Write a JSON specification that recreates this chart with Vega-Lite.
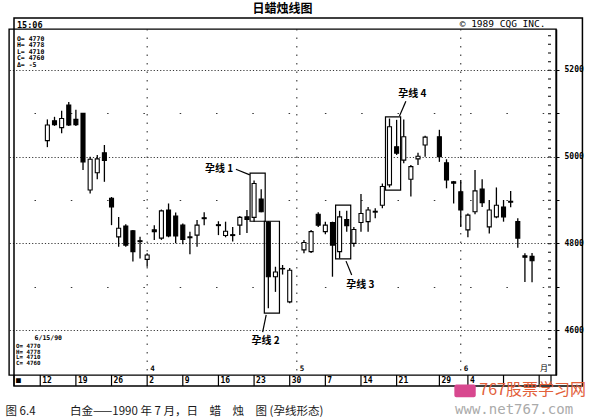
{
  "$schema": "https://vega.github.io/schema/vega-lite/v6.json",
  "width": 547,
  "height": 346,
  "autosize": {"type": "none"},
  "padding": {"left": 9, "top": 29, "right": 44, "bottom": 42},
  "background": "white",
  "title": {"text": "日蜡烛线图", "frame": "group", "anchor": "middle", "font": "Noto Sans CJK SC", "fontSize": 12, "fontWeight": "bold", "color": "black", "offset": 1},
  "config": {"view": {"stroke": "black", "strokeWidth": 1.4}, "font": "DejaVu Sans Mono", "axis": {"labelOverlap": false}},
  "datasets": {
    "candles": [
      {"slot": 0, "o": 5037, "h": 5086, "l": 5022, "c": 5073},
      {"slot": 1, "o": 5083, "h": 5092, "l": 5071, "c": 5074},
      {"slot": 2, "o": 5067, "h": 5106, "l": 5054, "c": 5088},
      {"slot": 3, "o": 5119, "h": 5126, "l": 5071, "c": 5073},
      {"slot": 4, "o": 5086, "h": 5108, "l": 5071, "c": 5074},
      {"slot": 5, "o": 5100, "h": 5101, "l": 4969, "c": 4988},
      {"slot": 6, "o": 4923, "h": 5000, "l": 4915, "c": 4994},
      {"slot": 7, "o": 4963, "h": 5004, "l": 4948, "c": 4995},
      {"slot": 8, "o": 5009, "h": 5027, "l": 4942, "c": 4991},
      {"slot": 9, "o": 4904, "h": 4907, "l": 4842, "c": 4884},
      {"slot": 10, "o": 4815, "h": 4861, "l": 4792, "c": 4835},
      {"slot": 11, "o": 4840, "h": 4844, "l": 4792, "c": 4796},
      {"slot": 12, "o": 4829, "h": 4831, "l": 4758, "c": 4781},
      {"slot": 13, "o": 4806, "h": 4815, "l": 4765, "c": 4804},
      {"slot": 14, "o": 4763, "h": 4777, "l": 4746, "c": 4773},
      {"slot": 15, "o": 4831, "h": 4842, "l": 4808, "c": 4827},
      {"slot": 16, "o": 4812, "h": 4878, "l": 4808, "c": 4875},
      {"slot": 17, "o": 4877, "h": 4892, "l": 4814, "c": 4817},
      {"slot": 18, "o": 4863, "h": 4871, "l": 4800, "c": 4817},
      {"slot": 19, "o": 4842, "h": 4846, "l": 4798, "c": 4809},
      {"slot": 20, "o": 4815, "h": 4827, "l": 4775, "c": 4813},
      {"slot": 21, "o": 4819, "h": 4854, "l": 4792, "c": 4842},
      {"slot": 22, "o": 4859, "h": 4872, "l": 4842, "c": 4857},
      {"slot": 24, "o": 4843, "h": 4851, "l": 4819, "c": 4841},
      {"slot": 25, "o": 4818, "h": 4850, "l": 4814, "c": 4828},
      {"slot": 26, "o": 4820, "h": 4838, "l": 4804, "c": 4818},
      {"slot": 27, "o": 4842, "h": 4863, "l": 4819, "c": 4860},
      {"slot": 28, "o": 4861, "h": 4877, "l": 4824, "c": 4855},
      {"slot": 29, "o": 4860, "h": 4945, "l": 4850, "c": 4938},
      {"slot": 30, "o": 4902, "h": 4925, "l": 4872, "c": 4873},
      {"slot": 31, "o": 4849, "h": 4851, "l": 4650, "c": 4723},
      {"slot": 32, "o": 4723, "h": 4746, "l": 4688, "c": 4734},
      {"slot": 33, "o": 4742, "h": 4750, "l": 4728, "c": 4741},
      {"slot": 34, "o": 4665, "h": 4743, "l": 4662, "c": 4738},
      {"slot": 36, "o": 4785, "h": 4808, "l": 4777, "c": 4802},
      {"slot": 37, "o": 4781, "h": 4831, "l": 4778, "c": 4827},
      {"slot": 38, "o": 4867, "h": 4872, "l": 4838, "c": 4842},
      {"slot": 39, "o": 4827, "h": 4850, "l": 4821, "c": 4842},
      {"slot": 40, "o": 4848, "h": 4850, "l": 4723, "c": 4796},
      {"slot": 41, "o": 4781, "h": 4875, "l": 4765, "c": 4861},
      {"slot": 42, "o": 4855, "h": 4875, "l": 4827, "c": 4841},
      {"slot": 43, "o": 4800, "h": 4838, "l": 4792, "c": 4832},
      {"slot": 44, "o": 4848, "h": 4914, "l": 4827, "c": 4869},
      {"slot": 45, "o": 4850, "h": 4884, "l": 4827, "c": 4877},
      {"slot": 46, "o": 4872, "h": 4881, "l": 4858, "c": 4874},
      {"slot": 47, "o": 4888, "h": 4938, "l": 4881, "c": 4931},
      {"slot": 48, "o": 4935, "h": 5088, "l": 4929, "c": 5069},
      {"slot": 49, "o": 5023, "h": 5085, "l": 5004, "c": 5008},
      {"slot": 50, "o": 4992, "h": 5086, "l": 4985, "c": 5046},
      {"slot": 51, "o": 4948, "h": 4981, "l": 4908, "c": 4977},
      {"slot": 52, "o": 4995, "h": 5009, "l": 4981, "c": 5001},
      {"slot": 53, "o": 5027, "h": 5048, "l": 5000, "c": 5045},
      {"slot": 55, "o": 5046, "h": 5062, "l": 4988, "c": 5000},
      {"slot": 56, "o": 4986, "h": 4994, "l": 4927, "c": 4946},
      {"slot": 57, "o": 4942, "h": 4944, "l": 4892, "c": 4939},
      {"slot": 58, "o": 4919, "h": 4946, "l": 4838, "c": 4877},
      {"slot": 59, "o": 4831, "h": 4869, "l": 4814, "c": 4865},
      {"slot": 60, "o": 4873, "h": 4969, "l": 4867, "c": 4921},
      {"slot": 61, "o": 4925, "h": 4948, "l": 4884, "c": 4894},
      {"slot": 62, "o": 4838, "h": 4900, "l": 4823, "c": 4877},
      {"slot": 63, "o": 4861, "h": 4929, "l": 4858, "c": 4888},
      {"slot": 64, "o": 4884, "h": 4900, "l": 4850, "c": 4861},
      {"slot": 65, "o": 4897, "h": 4921, "l": 4883, "c": 4895},
      {"slot": 66, "o": 4850, "h": 4858, "l": 4790, "c": 4812},
      {"slot": 67, "o": 4771, "h": 4777, "l": 4711, "c": 4768},
      {"slot": 68, "o": 4770, "h": 4778, "l": 4710, "c": 4760}
    ],
    "harami": [
      {"from": 29, "to": 30, "hi": 4962, "lo": 4851},
      {"from": 31, "to": 32, "hi": 4851, "lo": 4639},
      {"from": 41, "to": 42, "hi": 4888, "lo": 4764},
      {"from": 48, "to": 49, "hi": 5092, "lo": 4923}
    ],
    "notes": [
      {"label": "孕线 1", "slot": 24.1, "price": 4971, "s1": 26.45, "p1": 4971, "s2": 28.4, "p2": 4958},
      {"label": "孕线 2", "slot": 30.6, "price": 4575, "s1": 30.2, "p1": 4595, "s2": 30.7, "p2": 4635},
      {"label": "孕线 3", "slot": 43.9, "price": 4704, "s1": 42.7, "p1": 4727, "s2": 41.9, "p2": 4759},
      {"label": "孕线 4", "slot": 51.2, "price": 5145, "s1": 50.3, "p1": 5128, "s2": 49.4, "p2": 5094}
    ],
    "months": [
      {"slot": 14, "month": "4"},
      {"slot": 35, "month": "5"},
      {"slot": 58, "month": "6"}
    ],
    "weeks": [
      {"slot": -4.683, "week": "■"},
      {"slot": -1, "week": "12"},
      {"slot": 4, "week": "19"},
      {"slot": 9, "week": "26"},
      {"slot": 14, "week": "2"},
      {"slot": 19, "week": "9"},
      {"slot": 24, "week": "16"},
      {"slot": 29, "week": "23"},
      {"slot": 34, "week": "30"},
      {"slot": 39, "week": "7"},
      {"slot": 44, "week": "14"},
      {"slot": 49, "week": "21"},
      {"slot": 55, "week": "29"},
      {"slot": 59, "week": "4"},
      {"slot": 64, "week": ""},
      {"slot": 69, "week": ""},
      {"slot": 70.66, "week": ""}
    ]
  },
  "layer": [
    {
      "data": {"name": "months"},
      "mark": {"type": "rule", "color": "#222", "strokeWidth": 1, "strokeDash": [1.5, 7]},
      "encoding": {
        "x": {"field": "slot", "type": "quantitative", "scale": {"domain": [-4.683, 70.66], "nice": false, "zero": false}}
      }
    },
    {
      "data": {"name": "candles"},
      "mark": {"type": "rule", "color": "black", "strokeWidth": 1.3},
      "encoding": {
        "x": {
          "field": "slot", "type": "quantitative",
          "scale": {"domain": [-4.683, 70.66], "nice": false, "zero": false},
          "axis": {
            "orient": "bottom", "labels": false, "ticks": false, "domain": false, "grid": false,
            "title": "图 6.4　　　白金——1990 年 7 月，日　蜡　烛　图 (孕线形态)",
            "titleAnchor": "start", "titleAlign": "left", "titleX": -4, "titleY": 39, "titleBaseline": "alphabetic",
            "titleFont": "Noto Sans CJK SC", "titleFontSize": 11.5, "titleFontWeight": "normal", "titleColor": "#1a1a1a"
          }
        },
        "y": {
          "field": "l", "type": "quantitative",
          "scale": {"domain": [4496.2, 5294.6], "nice": false, "zero": false},
          "axis": {
            "orient": "right",
            "values": [4600, 4700, 4800, 4900, 5000, 5100, 5200],
            "format": "d",
            "labelExpr": "indexof([4600, 4800, 5000, 5200], datum.value) >= 0 ? datum.label : ''",
            "domain": true, "domainColor": "black", "domainWidth": 1.5,
            "tickSize": 3, "tickColor": "black", "tickWidth": 1,
            "grid": true, "gridColor": "#222", "gridWidth": 1, "gridOpacity": 0.9,
            "gridDash": {"condition": {"test": "indexof([4600, 4800, 5000, 5200], datum.value) >= 0", "value": [1.2, 2]}, "value": [1.5, 34.8]},
            "gridDashOffset": 24,
            "labelFont": "DejaVu Sans Mono", "labelFontSize": 8, "labelFontWeight": "bold", "labelColor": "black", "labelPadding": 5,
            "labelFlush": false, "labelOverlap": false, "labelBound": false,
            "title": null
          }
        },
        "y2": {"field": "h"}
      }
    },
    {
      "data": {"values": [{}]},
      "mark": {"type": "rule", "color": "black", "strokeWidth": 3, "strokeDash": [1, 7.667], "xOffset": -1.5},
      "encoding": {
        "x": {"datum": 70.66, "type": "quantitative", "scale": {"domain": [-4.683, 70.66], "nice": false, "zero": false}},
        "y": {"datum": 5280.3, "type": "quantitative", "scale": {"domain": [4496.2, 5294.6], "nice": false, "zero": false}},
        "y2": {"datum": 4500}
      }
    },
    {
      "data": {"name": "candles"},
      "mark": {"type": "bar", "width": 4, "stroke": "black", "strokeWidth": 1.1},
      "encoding": {
        "x": {"field": "slot", "type": "quantitative", "scale": {"domain": [-4.683, 70.66], "nice": false, "zero": false}},
        "y": {"field": "o", "type": "quantitative", "scale": {"domain": [4496.2, 5294.6], "nice": false, "zero": false}},
        "y2": {"field": "c"},
        "fill": {"condition": {"test": "datum.c > datum.o", "value": "white"}, "value": "black"}
      }
    },
    {
      "data": {"name": "weeks"},
      "mark": {"type": "rule", "color": "black", "strokeWidth": 1.2},
      "encoding": {
        "x": {"field": "slot", "type": "quantitative", "scale": {"domain": [-4.683, 70.66], "nice": false, "zero": false}},
        "y": {"datum": 4496.2, "type": "quantitative", "scale": {"domain": [4496.2, 5294.6], "nice": false, "zero": false}},
        "y2": {"datum": 4470.8}
      }
    },
    {
      "data": {"name": "weeks"},
      "mark": {"type": "text", "font": "DejaVu Sans Mono", "fontSize": 8, "fontWeight": "bold", "color": "black", "align": "left", "baseline": "middle", "dx": 2},
      "encoding": {
        "x": {"field": "slot", "type": "quantitative", "scale": {"domain": [-4.683, 70.66], "nice": false, "zero": false}},
        "y": {"datum": 4483.5, "type": "quantitative", "scale": {"domain": [4496.2, 5294.6], "nice": false, "zero": false}},
        "text": {"field": "week"}
      }
    },
    {
      "data": {"name": "harami"},
      "mark": {"type": "rect", "fill": "transparent", "stroke": "black", "strokeWidth": 1.2, "xOffset": -4, "x2Offset": 4},
      "encoding": {
        "x": {"field": "from", "type": "quantitative", "scale": {"domain": [-4.683, 70.66], "nice": false, "zero": false}},
        "x2": {"field": "to"},
        "y": {"field": "hi", "type": "quantitative", "scale": {"domain": [4496.2, 5294.6], "nice": false, "zero": false}},
        "y2": {"field": "lo"}
      }
    },
    {
      "data": {"name": "notes"},
      "mark": {"type": "rule", "color": "black", "strokeWidth": 1.2},
      "encoding": {
        "x": {"field": "s1", "type": "quantitative", "scale": {"domain": [-4.683, 70.66], "nice": false, "zero": false}},
        "x2": {"field": "s2"},
        "y": {"field": "p1", "type": "quantitative", "scale": {"domain": [4496.2, 5294.6], "nice": false, "zero": false}},
        "y2": {"field": "p2"}
      }
    },
    {
      "data": {"name": "notes"},
      "mark": {"type": "text", "font": "Noto Sans CJK SC", "fontSize": 10, "fontWeight": "bold", "color": "black", "baseline": "middle"},
      "encoding": {
        "x": {"field": "slot", "type": "quantitative", "scale": {"domain": [-4.683, 70.66], "nice": false, "zero": false}},
        "y": {"field": "price", "type": "quantitative", "scale": {"domain": [4496.2, 5294.6], "nice": false, "zero": false}},
        "text": {"field": "label"}
      }
    },
    {
      "data": {"name": "months"},
      "mark": {"type": "text", "font": "DejaVu Sans Mono", "fontSize": 7.5, "fontWeight": "bold", "color": "black", "align": "left", "baseline": "alphabetic", "dx": 3},
      "encoding": {
        "x": {"field": "slot", "type": "quantitative", "scale": {"domain": [-4.683, 70.66], "nice": false, "zero": false}},
        "y": {"datum": 4506.5, "type": "quantitative", "scale": {"domain": [4496.2, 5294.6], "nice": false, "zero": false}},
        "text": {"field": "month"}
      }
    },
    {
      "data": {"values": [{}]},
      "mark": {"type": "text", "font": "Noto Sans CJK SC", "fontSize": 8, "color": "black", "align": "left", "baseline": "alphabetic", "text": "月"},
      "encoding": {
        "x": {"datum": 69.1, "type": "quantitative", "scale": {"domain": [-4.683, 70.66], "nice": false, "zero": false}},
        "y": {"datum": 4506.5, "type": "quantitative", "scale": {"domain": [4496.2, 5294.6], "nice": false, "zero": false}}
      }
    },
    {
      "data": {"values": [{}]},
      "mark": {"type": "text", "font": "DejaVu Sans Mono", "fontSize": 8.5, "fontWeight": "bold", "color": "black", "align": "left", "baseline": "alphabetic", "text": "15:06"},
      "encoding": {
        "x": {"datum": -4.27, "type": "quantitative", "scale": {"domain": [-4.683, 70.66], "nice": false, "zero": false}},
        "y": {"datum": 5298, "type": "quantitative", "scale": {"domain": [4496.2, 5294.6], "nice": false, "zero": false}}
      }
    },
    {
      "data": {"values": [{}]},
      "mark": {"type": "text", "font": "DejaVu Sans Mono", "fontSize": 9.5, "color": "black", "align": "left", "baseline": "alphabetic", "text": "© 1989 CQG INC."},
      "encoding": {
        "x": {"datum": 57.85, "type": "quantitative", "scale": {"domain": [-4.683, 70.66], "nice": false, "zero": false}},
        "y": {"datum": 5299, "type": "quantitative", "scale": {"domain": [4496.2, 5294.6], "nice": false, "zero": false}}
      }
    },
    {
      "data": {"values": [{}]},
      "mark": {"type": "text", "font": "DejaVu Sans Mono", "fontSize": 6.5, "fontWeight": "bold", "color": "black", "align": "left", "baseline": "alphabetic", "lineHeight": 6.5, "text": ["O= 4770", "H= 4778", "L= 4710", "C= 4760", "Δ=   -5"]},
      "encoding": {
        "x": {"datum": -4.27, "type": "quantitative", "scale": {"domain": [-4.683, 70.66], "nice": false, "zero": false}},
        "y": {"datum": 5268, "type": "quantitative", "scale": {"domain": [4496.2, 5294.6], "nice": false, "zero": false}}
      }
    },
    {
      "data": {"values": [{}]},
      "mark": {"type": "text", "font": "DejaVu Sans Mono", "fontSize": 6.5, "fontWeight": "bold", "color": "black", "align": "left", "baseline": "alphabetic", "text": "6/15/90"},
      "encoding": {
        "x": {"datum": -1.79, "type": "quantitative", "scale": {"domain": [-4.683, 70.66], "nice": false, "zero": false}},
        "y": {"datum": 4578, "type": "quantitative", "scale": {"domain": [4496.2, 5294.6], "nice": false, "zero": false}}
      }
    },
    {
      "data": {"values": [{}]},
      "mark": {"type": "text", "font": "DejaVu Sans Mono", "fontSize": 5.8, "fontWeight": "bold", "color": "black", "align": "left", "baseline": "alphabetic", "lineHeight": 5.6, "text": ["O= 4770", "H= 4778", "L= 4710", "C= 4760"]},
      "encoding": {
        "x": {"datum": -4.4, "type": "quantitative", "scale": {"domain": [-4.683, 70.66], "nice": false, "zero": false}},
        "y": {"datum": 4558, "type": "quantitative", "scale": {"domain": [4496.2, 5294.6], "nice": false, "zero": false}}
      }
    },
    {
      "data": {"values": [{}]},
      "mark": {"type": "rect", "fill": "transparent", "stroke": "black", "strokeWidth": 1.5},
      "encoding": {
        "x": {"datum": -4.683, "type": "quantitative", "scale": {"domain": [-4.683, 70.66], "nice": false, "zero": false}},
        "x2": {"datum": 75.07},
        "y": {"datum": 5320, "type": "quantitative", "scale": {"domain": [4496.2, 5294.6], "nice": false, "zero": false}},
        "y2": {"datum": 4470.8}
      }
    },
    {
      "data": {"values": [{}]},
      "mark": {"type": "rect", "fill": "#d8488f", "cornerRadius": 2},
      "encoding": {
        "x": {"datum": 57.1, "type": "quantitative", "scale": {"domain": [-4.683, 70.66], "nice": false, "zero": false}},
        "x2": {"datum": 60.1},
        "y": {"datum": 4474, "type": "quantitative", "scale": {"domain": [4496.2, 5294.6], "nice": false, "zero": false}},
        "y2": {"datum": 4445}
      }
    },
    {
      "data": {"values": [{}]},
      "mark": {"type": "text", "font": "Noto Sans CJK SC", "fontSize": 16, "color": "#e2603a", "align": "left", "baseline": "alphabetic", "text": "767股票学习网"},
      "encoding": {
        "x": {"datum": 60.6, "type": "quantitative", "scale": {"domain": [-4.683, 70.66], "nice": false, "zero": false}},
        "y": {"datum": 4450, "type": "quantitative", "scale": {"domain": [4496.2, 5294.6], "nice": false, "zero": false}}
      }
    },
    {
      "data": {"values": [{}]},
      "mark": {"type": "text", "font": "DejaVu Sans Mono", "fontSize": 14, "color": "#aaaaaa", "align": "left", "baseline": "alphabetic", "text": "www.net767.com"},
      "encoding": {
        "x": {"datum": 57.2, "type": "quantitative", "scale": {"domain": [-4.683, 70.66], "nice": false, "zero": false}},
        "y": {"datum": 4406, "type": "quantitative", "scale": {"domain": [4496.2, 5294.6], "nice": false, "zero": false}}
      }
    }
  ]
}
